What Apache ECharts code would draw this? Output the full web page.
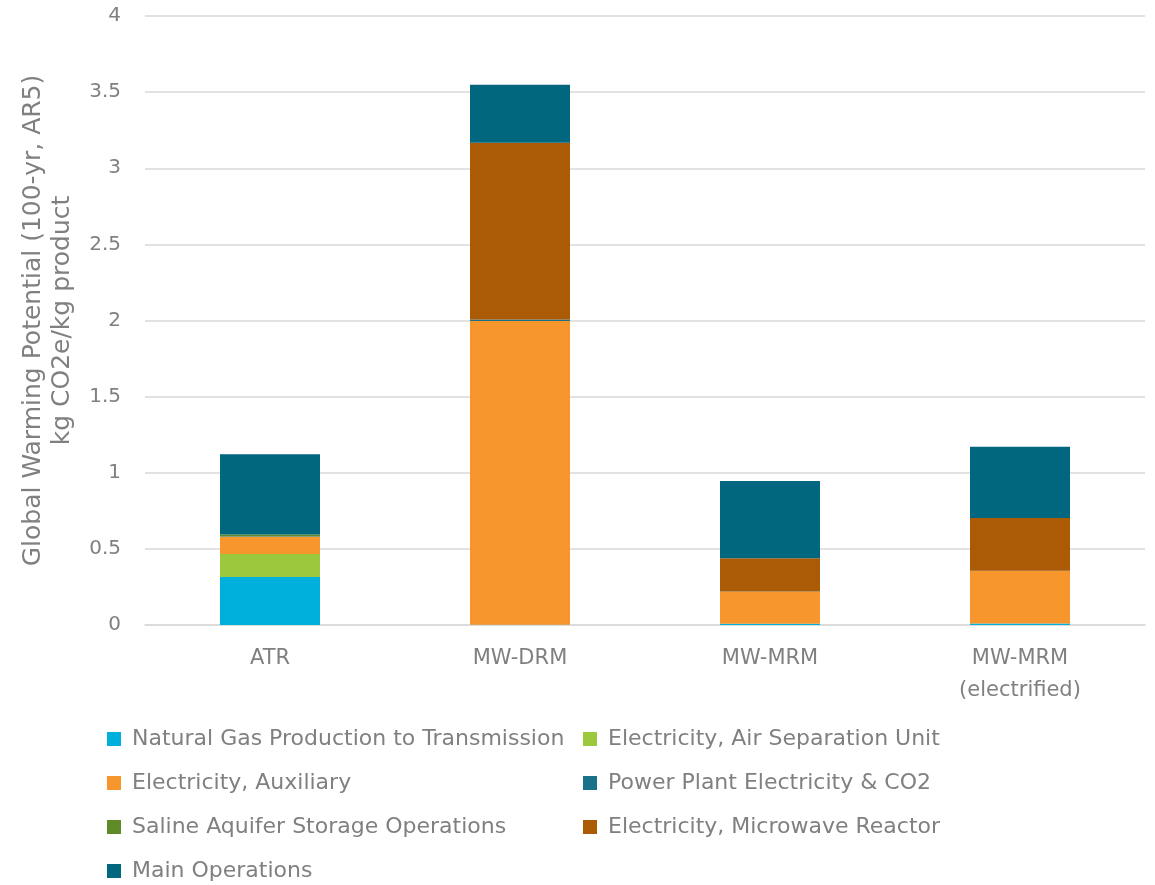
<!DOCTYPE html>
<html>
<head>
<meta charset="utf-8">
<script src="https://cdn.jsdelivr.net/npm/echarts@6/dist/echarts.min.js"></script>
<style>html,body{margin:0;padding:0;background:#fff}#c{width:1155px;height:885px}</style>
</head>
<body>
<div id="c"></div>
<script>
const categories = ['ATR', 'MW-DRM', 'MW-MRM', 'MW-MRM\n(electrified)'];
const seriesNames = [
  'Natural Gas Production to Transmission',
  'Electricity, Air Separation Unit',
  'Electricity, Auxiliary',
  'Power Plant Electricity & CO2',
  'Saline Aquifer Storage Operations',
  'Electricity, Microwave Reactor',
  'Main Operations'
];
const naturalGas   = [0.315, 0.002, 0.008, 0.010];
const elecASU      = [0.151, 0, 0, 0];
const elecAux      = [0.114, 1.995, 0.210, 0.345];
const powerPlant   = [0.003, 0.010, 0.002, 0.002];
const salineAq     = [0.012, 0, 0, 0];
const elecMicro    = [0, 1.160, 0.218, 0.346];
const mainOps      = [0.526, 0.381, 0.508, 0.468];
const yTicks = ['0', '0.5', '1', '1.5', '2', '2.5', '3', '3.5', '4'];

const colors = ['#00b0dc', '#9bc83c', '#f7962d', '#19718a', '#5f8a27', '#ab5a05', '#00677f'];
const values = [naturalGas, elecASU, elecAux, powerPlant, salineAq, elecMicro, mainOps];
const FONT = "'DejaVu Sans', sans-serif";
const TXT = '#808080';

const chart = echarts.init(document.getElementById('c'), null, {renderer: 'canvas'});
const legendCommon = {
  orient: 'vertical',
  top: 728,
  height: 200,
  padding: 0,
  itemWidth: 14, itemHeight: 14,
  itemGap: 22,
  icon: 'rect',
  textStyle: {color: TXT, fontSize: 22, fontFamily: FONT, padding: [0, 0, 0, 6]}
};
chart.setOption({
  animation: false,
  color: colors,
  grid: {left: 145, right: 10, top: 16, bottom: 260},
  legend: [
    Object.assign({}, legendCommon, {left: 107, data: [seriesNames[0], seriesNames[2], seriesNames[4], seriesNames[6]]}),
    Object.assign({}, legendCommon, {left: 583, data: [seriesNames[1], seriesNames[3], seriesNames[5]]})
  ],
  xAxis: {
    type: 'category',
    data: categories,
    axisLine: {lineStyle: {color: '#d9d9d9', width: 1.5}},
    axisTick: {show: false},
    axisLabel: {color: TXT, fontSize: 21, fontFamily: FONT, margin: 18, lineHeight: 32}
  },
  yAxis: {
    type: 'value',
    min: 0, max: 4, interval: 0.5,
    name: 'Global Warming Potential (100-yr, AR5)\nkg CO2e/kg product',
    nameLocation: 'middle',
    nameGap: 68,
    nameTextStyle: {color: TXT, fontSize: 25, fontFamily: FONT, lineHeight: 29},
    axisLine: {show: false},
    axisTick: {show: false},
    splitLine: {lineStyle: {color: '#d9d9d9', width: 1.5}},
    axisLabel: {
      color: TXT, fontSize: 20, fontFamily: FONT, margin: 24,
      formatter: function (v) { const i = Math.round(v / 0.5); return yTicks[i] !== undefined ? yTicks[i] : ''; }
    }
  },
  series: seriesNames.map((n, i) => ({
    name: n,
    type: 'bar',
    stack: 'total',
    barWidth: 100,
    data: values[i],
    itemStyle: {color: colors[i]}
  }))
});
</script>
</body>
</html>
